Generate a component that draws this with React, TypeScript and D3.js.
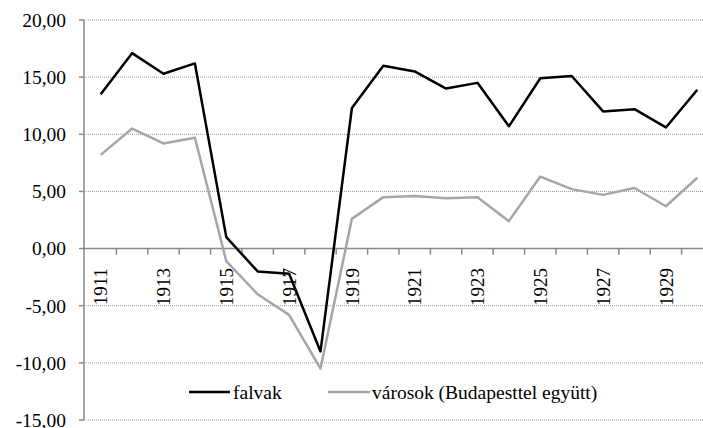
import React from "react";
import * as d3 from "d3";

const years = [
  1911, 1912, 1913, 1914, 1915, 1916, 1917, 1918, 1919, 1920,
  1921, 1922, 1923, 1924, 1925, 1926, 1927, 1928, 1929, 1930,
];
const falvak = [
  13.5, 17.1, 15.3, 16.2, 1.0, -2.0, -2.2, -9.0, 12.3, 16.0,
  15.5, 14.0, 14.5, 10.7, 14.9, 15.1, 12.0, 12.2, 10.6, 13.9,
];
const varosok = [
  8.2, 10.5, 9.2, 9.7, -1.1, -4.0, -5.8, -10.5, 2.6, 4.5,
  4.6, 4.4, 4.5, 2.4, 6.3, 5.2, 4.7, 5.3, 3.7, 6.2,
];
const yTicks = [-15, -10, -5, 0, 5, 10, 15, 20];
const seriesNames = ["falvak", "városok (Budapesttel együtt)"];

const W = 703;
const H = 428;
const textStyle: React.CSSProperties = {
  fontFamily: '"Liberation Serif", "DejaVu Serif", serif',
};

const App: React.FC = () => {
  const x = d3
    .scaleBand<number>()
    .domain(years)
    .range([85, 713]);
  const y = d3.scaleLinear().domain([-15, 20]).range([420, 20]);
  const cx = (yr: number) => (x(yr) || 0) + x.bandwidth() / 2;

  const line = d3
    .line<number>()
    .x((_, i) => cx(years[i]))
    .y((d) => y(d));

  const fmt = (v: number) => v.toFixed(2).replace(".", ",");

  return (
    <div style={{ position: "fixed", left: 0, top: 0 }}>
      <svg width={W} height={H} style={{ display: "block", background: "#fff" }}>
        {/* gridlines */}
        {yTicks
          .filter((t) => t !== 0)
          .map((t) => (
            <line
              key={"g" + t}
              x1={84}
              x2={W}
              y1={y(t)}
              y2={y(t)}
              stroke="#9a9a9a"
              strokeWidth={1}
              strokeDasharray="1,1"
            />
          ))}
        {/* y axis */}
        <line x1={84} x2={84} y1={y(20)} y2={y(-15)} stroke="#888" strokeWidth={1.5} />
        {yTicks.map((t) => (
          <g key={"y" + t}>
            <line x1={79} x2={84} y1={y(t)} y2={y(t)} stroke="#888" strokeWidth={1.5} />
            <text
              x={66}
              y={y(t)}
              dy="0.35em"
              textAnchor="end"
              style={textStyle}
              fontSize={19.5}
              fill="#000"
            >
              {fmt(t)}
            </text>
          </g>
        ))}
        {/* x axis at zero */}
        <line x1={84} x2={W} y1={y(0)} y2={y(0)} stroke="#888" strokeWidth={1.5} />
        {years.map((yr) => (
          <line
            key={"xt" + yr}
            x1={(x(yr) || 0) + x.bandwidth()}
            x2={(x(yr) || 0) + x.bandwidth()}
            y1={y(0)}
            y2={y(0) + 6}
            stroke="#888"
            strokeWidth={1.5}
          />
        ))}
        {years
          .filter((yr) => yr % 2 === 1)
          .map((yr) => (
            <text
              key={"xl" + yr}
              transform={`translate(${cx(yr)},268) rotate(-90)`}
              dy="0.35em"
              textAnchor="end"
              style={textStyle}
              fontSize={19}
              fill="#000"
            >
              {yr}
            </text>
          ))}
        {/* series */}
        <path d={line(varosok) || ""} fill="none" stroke="#a6a6a6" strokeWidth={2.5} strokeLinejoin="round" />
        <path d={line(falvak) || ""} fill="none" stroke="#000" strokeWidth={2.5} strokeLinejoin="round" />
        {/* legend */}
        <line x1={189} x2={230} y1={392} y2={392} stroke="#000" strokeWidth={2.5} />
        <text x={233} y={392} dy="0.35em" style={textStyle} fontSize={19.5} fill="#000">
          {seriesNames[0]}
        </text>
        <line x1={328} x2={370} y1={392} y2={392} stroke="#a6a6a6" strokeWidth={2.5} />
        <text x={372} y={392} dy="0.35em" style={textStyle} fontSize={19.5} fill="#000">
          {seriesNames[1]}
        </text>
      </svg>
    </div>
  );
};

export default App;
